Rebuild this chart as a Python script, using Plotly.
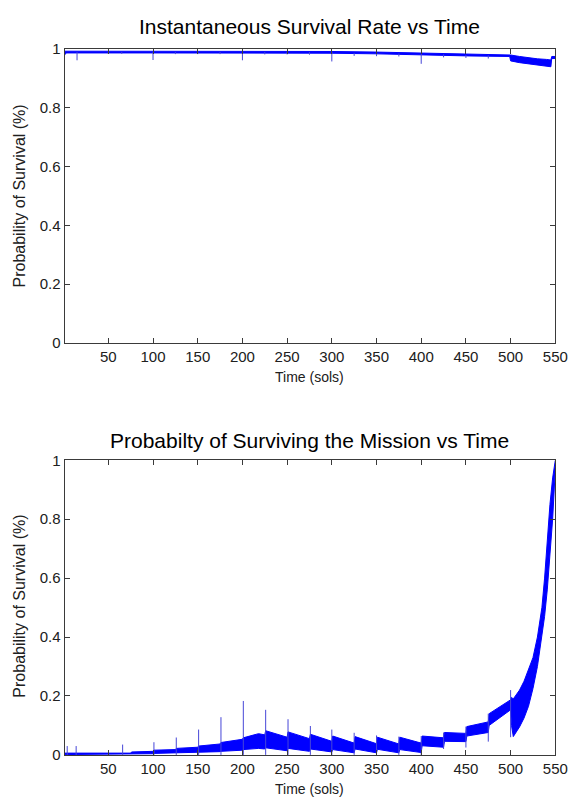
import plotly.graph_objects as go

# ---------------- data: top panel (instantaneous survival rate) ----------------
top_x = [1, 3, 100, 200, 300, 350, 400, 450, 499, 500, 510, 520, 530, 540, 545, 546, 550]
top_upper = [0.993, 0.993, 0.993, 0.993, 0.992, 0.990, 0.987, 0.983, 0.980,
             0.980, 0.975, 0.970, 0.967, 0.965, 0.963, 0.975, 0.975]
top_lower = [0.980, 0.987, 0.987, 0.987, 0.986, 0.984, 0.980, 0.977, 0.975,
             0.960, 0.954, 0.950, 0.945, 0.942, 0.940, 0.968, 0.968]
top_spike_x = [15, 50, 65, 100, 125, 150, 175, 200, 225, 250, 275, 300,
               325, 350, 375, 400, 425, 450, 475]
top_spike_base = [0.99, 0.99, 0.99, 0.99, 0.99, 0.99, 0.99, 0.99, 0.99, 0.99,
                  0.99, 0.99, 0.987, 0.986, 0.985, 0.984, 0.982, 0.980, 0.979]
top_spike_tip = [0.962, 0.984, 0.984, 0.963, 0.983, 0.983, 0.983, 0.962, 0.982,
                 0.982, 0.981, 0.958, 0.977, 0.976, 0.975, 0.950, 0.972, 0.970, 0.968]

# ---------------- data: bottom panel (probability of surviving the mission) ----------------
bot_x = [1, 75, 76, 100, 101, 125, 126, 150, 151, 175, 176, 200, 201, 218, 225,
         226, 250, 251, 275, 276, 300, 301, 325, 326, 350, 351, 375, 376, 400,
         401, 425, 426, 450, 451, 475, 476, 500, 501, 503, 510, 515, 520, 525,
         530, 535, 538, 541, 544, 547, 550]
bot_upper = [0.006, 0.006, 0.010, 0.012, 0.016, 0.018, 0.022, 0.026, 0.030, 0.037,
             0.042, 0.053, 0.058, 0.072, 0.068, 0.082, 0.060, 0.078, 0.055, 0.070,
             0.046, 0.064, 0.040, 0.062, 0.038, 0.060, 0.037, 0.060, 0.040, 0.064,
             0.058, 0.076, 0.073, 0.096, 0.112, 0.140, 0.187, 0.195, 0.190, 0.220,
             0.250, 0.290, 0.330, 0.400, 0.500, 0.600, 0.730, 0.850, 0.940, 1.000]
bot_lower = [0.001, 0.002, 0.003, 0.004, 0.005, 0.006, 0.007, 0.008, 0.009, 0.011,
             0.012, 0.016, 0.018, 0.022, 0.020, 0.024, 0.014, 0.022, 0.012, 0.020,
             0.010, 0.018, 0.007, 0.020, 0.007, 0.019, 0.007, 0.018, 0.008, 0.031,
             0.026, 0.046, 0.045, 0.064, 0.076, 0.100, 0.153, 0.100, 0.062, 0.095,
             0.125, 0.165, 0.225, 0.300, 0.400, 0.470, 0.560, 0.680, 0.800, 0.970]
bot_spike_x = [4, 14, 66, 101, 126, 151, 176, 201, 226, 251, 276, 300, 325, 350,
               375, 400, 425, 450, 475, 500]
bot_spike_lo = [0, 0, 0, 0, 0, 0, 0, 0, 0, 0, 0, 0, 0, 0, 0, 0, 0.02, 0.025, 0.045, 0.06]
bot_spike_hi = [0.03, 0.03, 0.035, 0.043, 0.059, 0.086, 0.128, 0.183, 0.153, 0.121,
                0.098, 0.086, 0.075, 0.066, 0.062, 0.064, 0.076, 0.096, 0.140, 0.220]

x_ticks = [50, 100, 150, 200, 250, 300, 350, 400, 450, 500, 550]
y_ticks = [0, 0.2, 0.4, 0.6, 0.8, 1]
y_tick_text = ["0", "0.2", "0.4", "0.6", "0.8", "1"]

titles = ["Instantaneous Survival Rate vs Time", "Probabilty of Surviving the Mission vs Time"]
x_label = "Time (sols)"
y_label = "Probability of Survival (%)"

BLUE = "#0000ff"
SPIKE = "rgb(70,70,215)"


def spike_xy(xs, lo, hi):
    sx, sy = [], []
    for a, b, c in zip(xs, lo, hi):
        sx += [a, a, None]
        sy += [b, c, None]
    return sx, sy


fig = go.Figure()


def add_panel(xs, upper, lower, spx, splo, sphi, xa, ya):
    fig.add_trace(go.Scatter(x=xs, y=lower, mode="lines", line=dict(color=BLUE, width=1),
                             xaxis=xa, yaxis=ya, showlegend=False, hoverinfo="skip"))
    fig.add_trace(go.Scatter(x=xs, y=upper, mode="lines", line=dict(color=BLUE, width=1),
                             fill="tonexty", fillcolor=BLUE,
                             xaxis=xa, yaxis=ya, showlegend=False, hoverinfo="skip"))
    sx, sy = spike_xy(spx, splo, sphi)
    fig.add_trace(go.Scatter(x=sx, y=sy, mode="lines", line=dict(color=SPIKE, width=1),
                             xaxis=xa, yaxis=ya, showlegend=False, hoverinfo="skip"))


add_panel(top_x, top_upper, top_lower, top_spike_x, top_spike_tip, top_spike_base, "x", "y")
add_panel(bot_x, bot_upper, bot_lower, bot_spike_x, bot_spike_lo, bot_spike_hi, "x2", "y2")

W, H = 582, 804
FONT = "Liberation Sans, Arial, sans-serif"
AX = "#3a3a3a"

xdom = [66 / W, 568 / W]
top_dom = [1 - 341 / H, 1 - 41 / H]
bot_dom = [1 - 762 / H, 1 - 461 / H]

axis_common = dict(showline=True, linecolor=AX, linewidth=1, mirror="ticks",
                   ticks="inside", ticklen=5, tickcolor=AX, tickwidth=1,
                   showgrid=False, zeroline=False,
                   tickfont=dict(family=FONT, size=15, color="#202020"))

fig.update_layout(
    width=W, height=H, margin=dict(l=0, r=0, t=0, b=0),
    paper_bgcolor="white", plot_bgcolor="white", showlegend=False,
    xaxis=dict(domain=xdom, range=[1, 550], tickvals=x_ticks, anchor="y", **axis_common),
    yaxis=dict(domain=top_dom, range=[0, 1], tickvals=y_ticks, ticktext=y_tick_text,
               anchor="x", **axis_common),
    xaxis2=dict(domain=xdom, range=[1, 550], tickvals=x_ticks, anchor="y2", **axis_common),
    yaxis2=dict(domain=bot_dom, range=[0, 1], tickvals=y_ticks, ticktext=y_tick_text,
                anchor="x2", **axis_common),
)

cx = (66 + 568) / 2 / W
ann = []
for t, ypx in zip(titles, [18, 441]):
    ann.append(dict(text=t, x=cx, y=1 - ypx / H, xref="paper", yref="paper",
                    showarrow=False, xanchor="center", yanchor="middle",
                    font=dict(family=FONT, size=21, color="#000000")))
for ypx in [376, 797]:
    ann.append(dict(text=x_label, x=cx, y=1 - ypx / H, xref="paper", yref="paper",
                    showarrow=False, xanchor="center", yanchor="middle",
                    font=dict(family=FONT, size=14, color="#202020")))
for ypx in [191, 610]:
    ann.append(dict(text=y_label, x=20 / W, y=1 - ypx / H, xref="paper", yref="paper",
                    showarrow=False, xanchor="center", yanchor="middle", textangle=-90,
                    font=dict(family=FONT, size=16, color="#202020")))
fig.update_layout(annotations=ann)

fig.write_html("out.html")
